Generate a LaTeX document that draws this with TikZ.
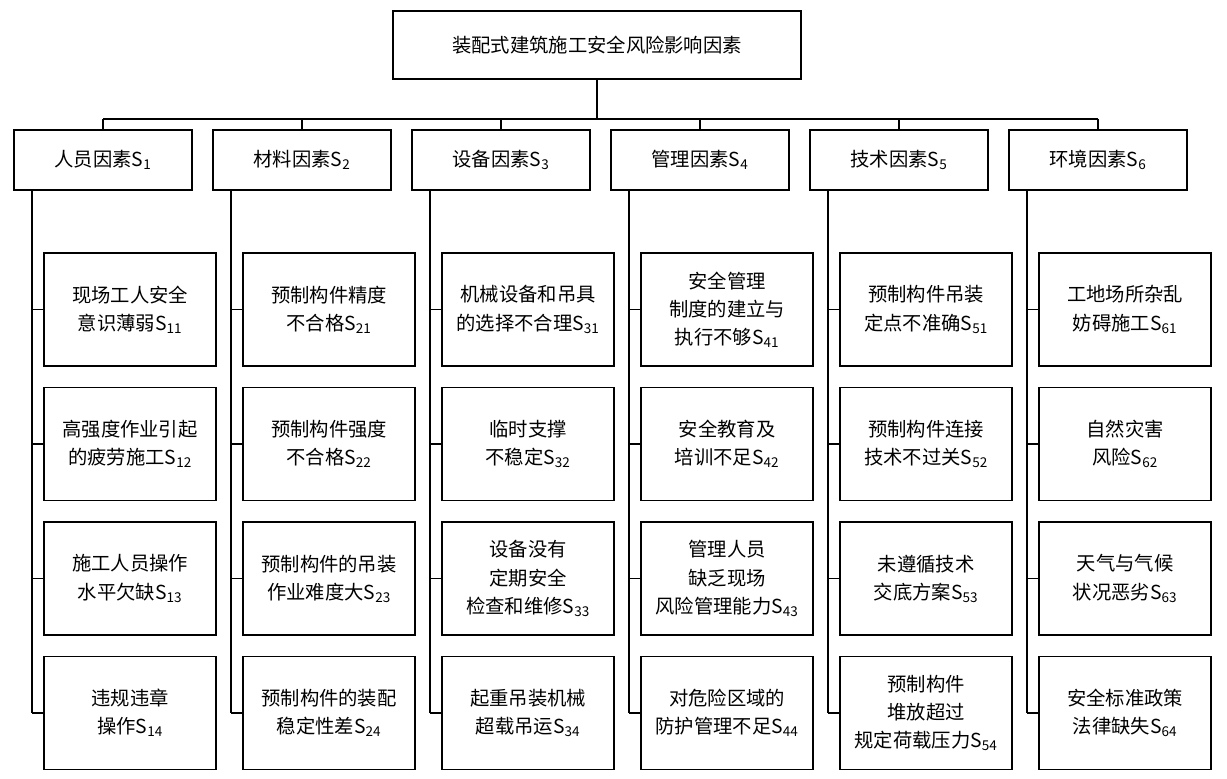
\documentclass[tikz,border=0pt]{standalone}
\usepackage{fontspec}
\setmainfont{Noto Sans CJK SC}
\usetikzlibrary{positioning}

\tikzset{
  box/.style={draw, line width=0.9pt, align=center, inner sep=0pt, font=\fontsize{16.5}{24}\selectfont},
  catbox/.style={box, minimum width=5.34cm, minimum height=1.8cm},
  subbox/.style={box, minimum width=5.16cm, minimum height=3.39cm},
  link/.style={line width=0.9pt}
}
\newcommand{\sbs}[1]{S\textsubscript{#1}}

\begin{document}
\begin{tikzpicture}[x=0.03cm, y=-0.03cm]
  \useasboundingbox (0,0) rectangle (1227,778);

  % Top
  \node[box, minimum width=12.24cm, minimum height=2.04cm] (root) at (597,45) {装配式建筑施工安全风险影响因素};
  \coordinate (bus) at (597,119);
  \draw[link] (root.south) -- (bus);
  \draw[link] (103,119) -- (1098,119);

  % Categories
  \foreach \i/\t in {1/人员因素,2/材料因素,3/设备因素,4/管理因素,5/技术因素,6/环境因素}{
    \node[catbox] (c\i) at ({103+199*(\i-1)},160) {\t\sbs{\i}};
    \draw[link] ({103+199*(\i-1)},119) -- (c\i.north);
    \coordinate (s\i) at ({32+199*(\i-1)},190);
    \draw[link] (s\i) -- ({32+199*(\i-1)},713);
  }

  % Sub-factors
  \foreach \i/\a/\b/\c/\d in {
    1/{现场工人安全\\意识薄弱\sbs{11}}/{高强度作业引起\\的疲劳施工\sbs{12}}/{施工人员操作\\水平欠缺\sbs{13}}/{违规违章\\操作\sbs{14}},
    2/{预制构件精度\\不合格\sbs{21}}/{预制构件强度\\不合格\sbs{22}}/{预制构件的吊装\\作业难度大\sbs{23}}/{预制构件的装配\\稳定性差\sbs{24}},
    3/{机械设备和吊具\\的选择不合理\sbs{31}}/{临时支撑\\不稳定\sbs{32}}/{设备没有\\定期安全\\检查和维修\sbs{33}}/{起重吊装机械\\超载吊运\sbs{34}},
    4/{安全管理\\制度的建立与\\执行不够\sbs{41}}/{安全教育及\\培训不足\sbs{42}}/{管理人员\\缺乏现场\\风险管理能力\sbs{43}}/{对危险区域的\\防护管理不足\sbs{44}},
    5/{预制构件吊装\\定点不准确\sbs{51}}/{预制构件连接\\技术不过关\sbs{52}}/{未遵循技术\\交底方案\sbs{53}}/{预制构件\\堆放超过\\规定荷载压力\sbs{54}},
    6/{工地场所杂乱\\妨碍施工\sbs{61}}/{自然灾害\\风险\sbs{62}}/{天气与气候\\状况恶劣\sbs{63}}/{安全标准政策\\法律缺失\sbs{64}}}{
    \foreach \j/\t/\yy in {1/\a/309.5, 2/\b/444, 3/\c/578.5, 4/\d/713}{
      \node[subbox] (f\i\j) at ({130+199*(\i-1)},\yy) {\t};
      \draw[link] ({32+199*(\i-1)},\yy) -- (f\i\j.west);
    }
  }
\end{tikzpicture}
\end{document}
